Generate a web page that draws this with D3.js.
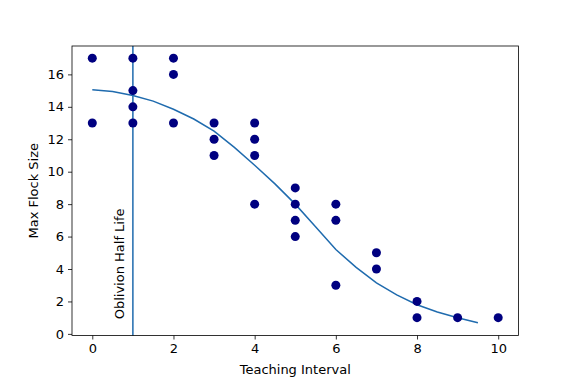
<!DOCTYPE html>
<html>
<head>
<meta charset="utf-8">
<script src="https://cdn.jsdelivr.net/npm/d3@7"></script>
<style>
  body { margin: 0; background: #fff; }
  svg { font-family: "DejaVu Sans", sans-serif; }
</style>
</head>
<body>
<svg width="576" height="384"></svg>
<script>
// scatter: teaching interval vs max flock size
var ptX = [0, 0, 1, 1, 1, 1, 2, 2, 2, 3, 3, 3, 4, 4, 4, 4, 5, 5, 5, 5, 6, 6, 6, 7, 7, 8, 8, 9, 10];
var ptY = [17, 13, 17, 15, 14, 13, 17, 16, 13, 13, 12, 11, 13, 12, 11, 8, 9, 8, 7, 6, 8, 7, 3, 5, 4, 2, 1, 1, 1];

// fitted curve
var fitX = [0, 0.5, 1, 1.5, 2, 2.5, 3, 3.5, 4, 4.5, 5, 5.5, 6, 6.5, 7, 7.5, 8, 8.5, 9, 9.5];
var fitY = [15.05, 14.95, 14.7, 14.35, 13.85, 13.25, 12.5, 11.5, 10.4, 9.25, 8.0, 6.6, 5.2, 4.1, 3.15, 2.4, 1.8, 1.35, 1.0, 0.68];

var halfLife = 1;
var xTicks = [0, 2, 4, 6, 8, 10];
var yTicks = [0, 2, 4, 6, 8, 10, 12, 14, 16];

var svg = d3.select("svg");
var mLeft = 72, mRight = 518.5, mTop = 46, mBottom = 335.5;
var fs = 13;

var x = d3.scaleLinear().domain([-0.5, 10.5]).range([mLeft, mRight]);
var y = d3.scaleLinear().domain([-0.1, 17.75]).range([mBottom, mTop]);

var blue = "#1f6bae";

// curve
svg.append("path")
    .datum(d3.zip(fitX, fitY))
    .attr("fill", "none")
    .attr("stroke", blue)
    .attr("stroke-width", 1.5)
    .attr("d", d3.line().x(function(d) { return x(d[0]); }).y(function(d) { return y(d[1]); }));

// half life line
svg.append("line")
    .attr("x1", x(halfLife)).attr("x2", x(halfLife))
    .attr("y1", mTop).attr("y2", mBottom)
    .attr("stroke", blue)
    .attr("stroke-width", 1.5);

svg.append("text")
    .attr("transform", "translate(" + x(0.78) + "," + y(0.9) + ") rotate(-90)")
    .attr("font-size", fs)
    .attr("fill", "#000")
    .text("Oblivion Half Life");

// points
svg.append("g").selectAll("circle")
    .data(d3.zip(ptX, ptY))
    .enter().append("circle")
    .attr("cx", function(d) { return x(d[0]); })
    .attr("cy", function(d) { return y(d[1]); })
    .attr("r", 4.5)
    .attr("fill", "#000080");

// axes
var xAxis = svg.append("g")
    .attr("transform", "translate(0," + mBottom + ")")
    .call(d3.axisBottom(x).tickValues(xTicks).tickSize(4).tickPadding(4).tickSizeOuter(0));
var yAxis = svg.append("g")
    .attr("transform", "translate(" + mLeft + ",0)")
    .call(d3.axisLeft(y).tickValues(yTicks).tickSize(4).tickPadding(4).tickSizeOuter(0));

[xAxis, yAxis].forEach(function(g) {
    g.attr("font-size", fs).attr("font-family", "DejaVu Sans");
    g.select(".domain").remove();
    g.selectAll("line").attr("stroke", "#000").attr("stroke-width", 0.8);
    g.selectAll("text").attr("fill", "#000");
});

// frame
svg.append("rect")
    .attr("x", mLeft).attr("y", mTop)
    .attr("width", mRight - mLeft).attr("height", mBottom - mTop)
    .attr("fill", "none")
    .attr("stroke", "#000")
    .attr("stroke-width", 0.8);

svg.append("text")
    .attr("x", (mLeft + mRight) / 2)
    .attr("y", 374)
    .attr("text-anchor", "middle")
    .attr("font-size", fs)
    .text("Teaching Interval");

svg.append("text")
    .attr("transform", "translate(38," + (mTop + mBottom) / 2 + ") rotate(-90)")
    .attr("text-anchor", "middle")
    .attr("font-size", fs)
    .text("Max Flock Size");
</script>
</body>
</html>
